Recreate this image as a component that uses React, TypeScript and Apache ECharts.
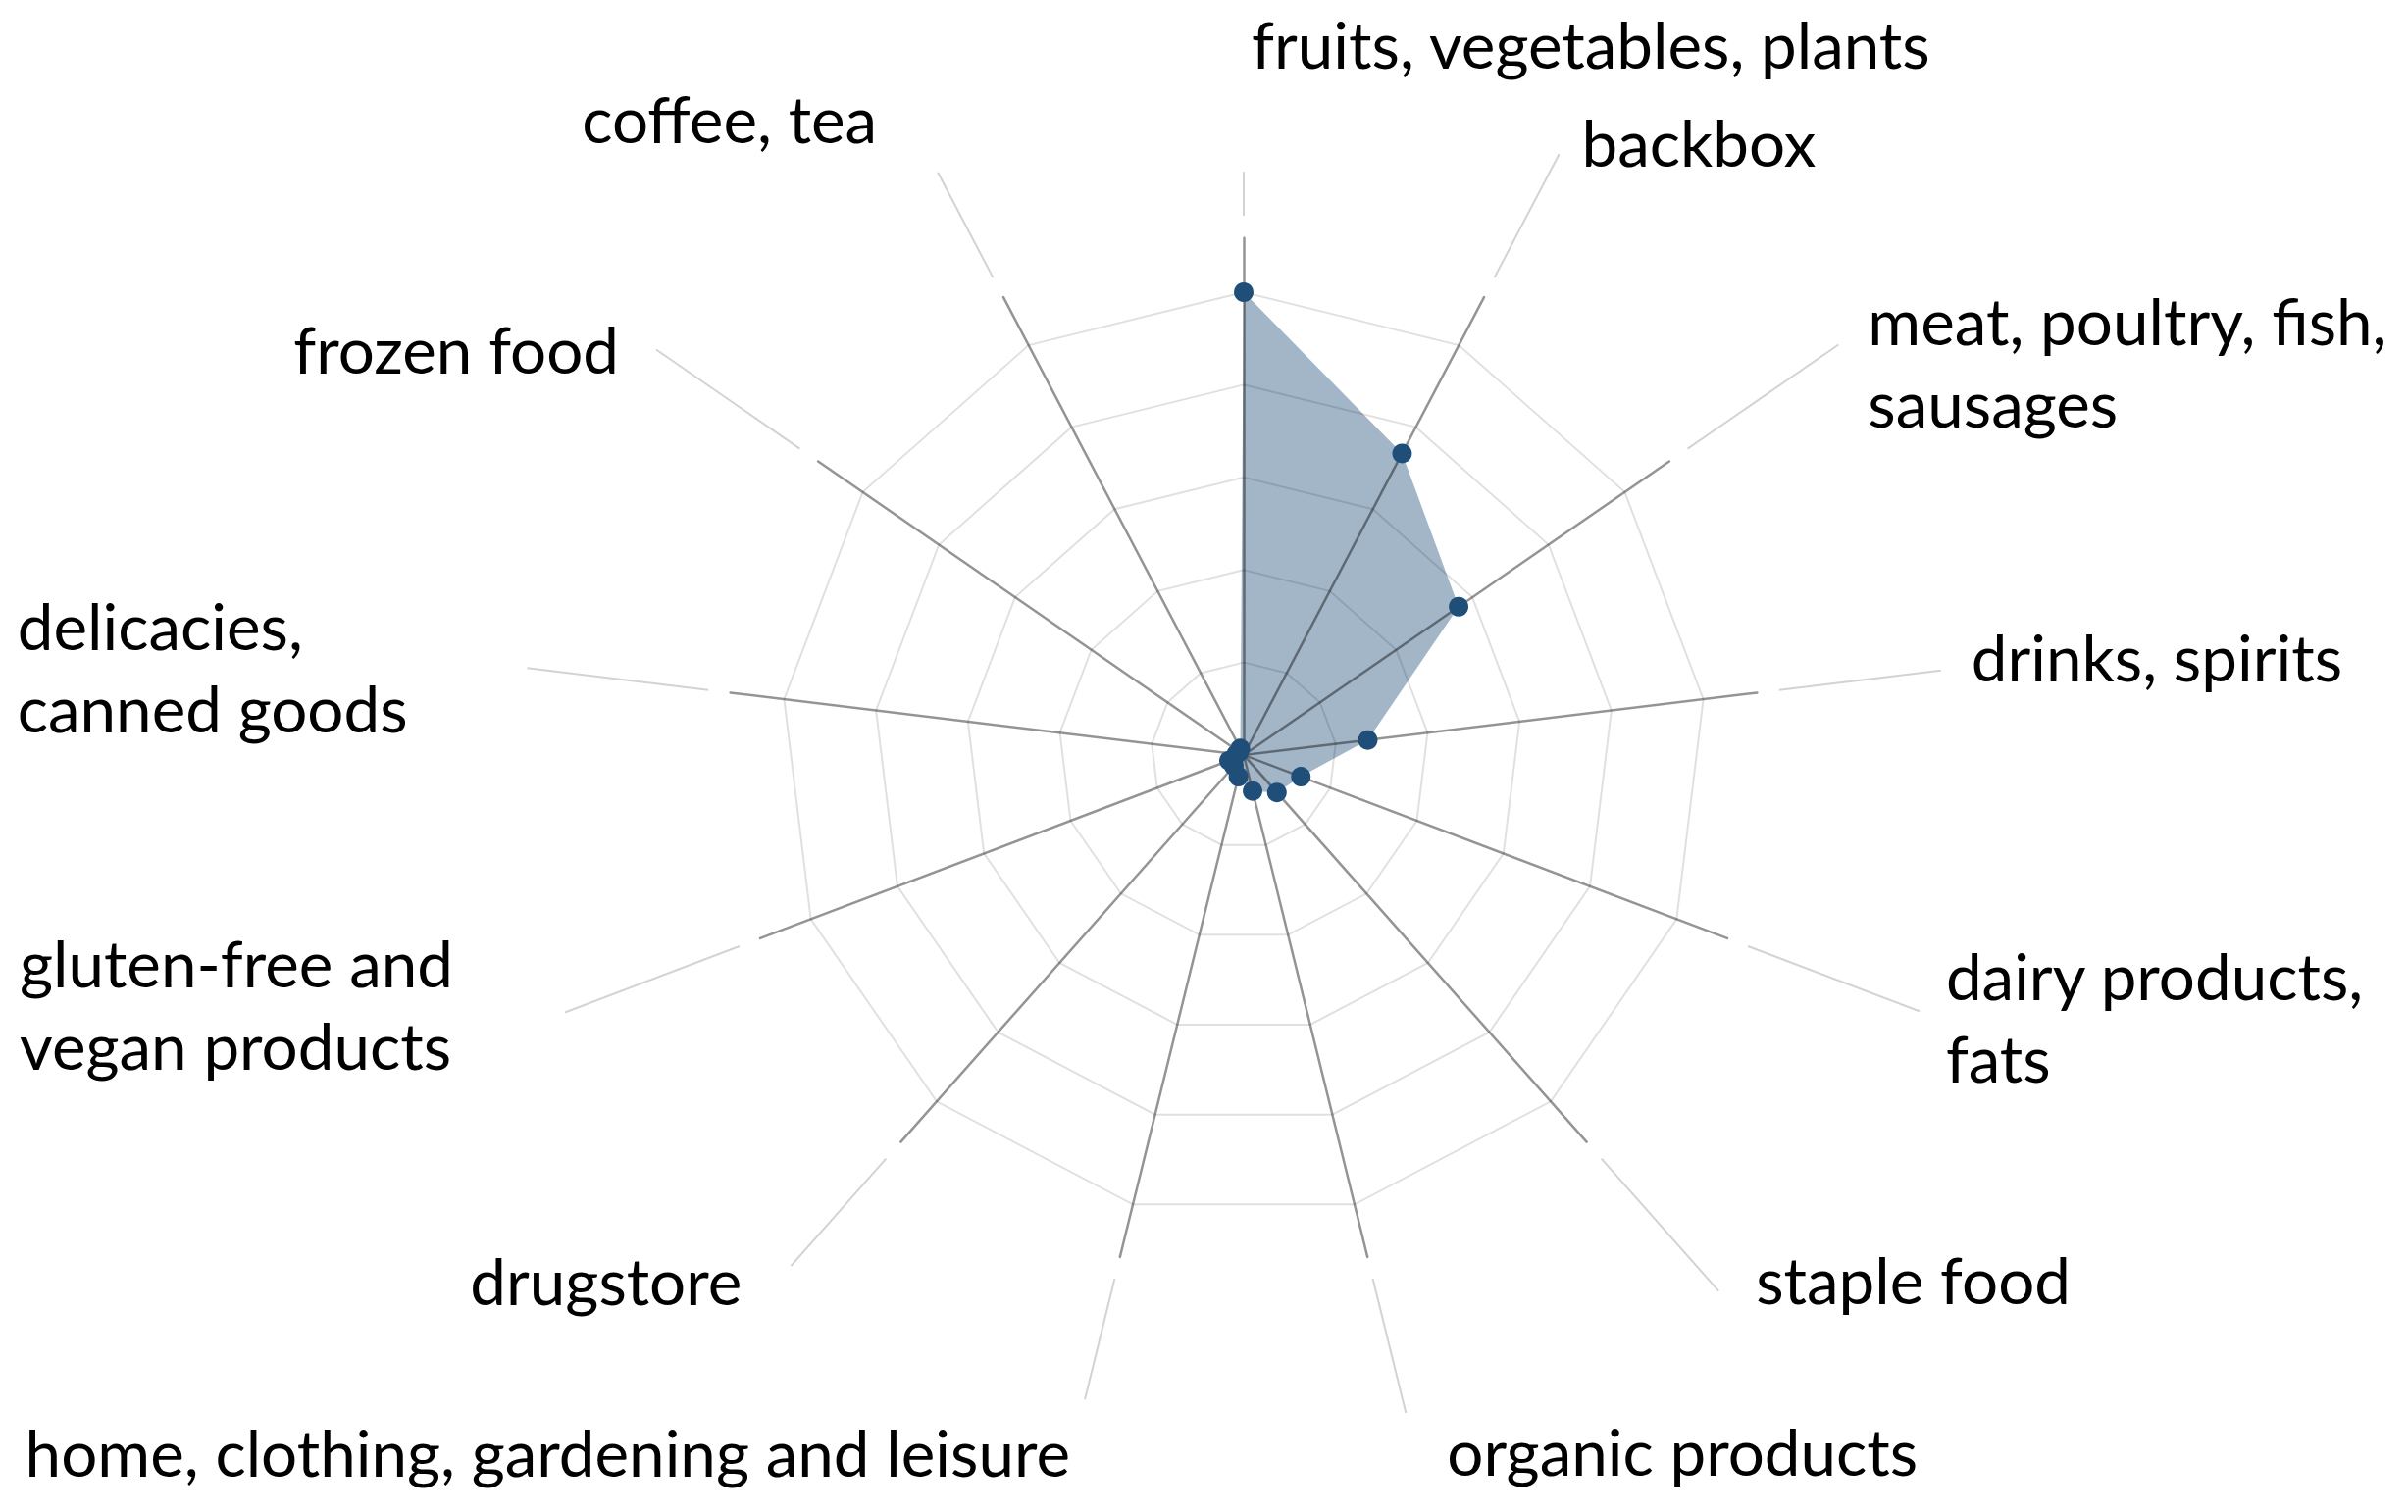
import React, { useEffect, useRef } from 'react';
import * as echarts from 'echarts';

// Categories, clockwise from the top (line breaks as in the reference labels)
const categories: string[] = [
  'fruits, vegetables, plants',
  'backbox',
  'meat, poultry, fish,\nsausages',
  'drinks, spirits',
  'dairy products,\nfats',
  'staple food',
  'organic products',
  'home, clothing, gardening and leisure',
  'drugstore',
  'gluten-free and\nvegan products',
  'delicacies,\ncanned goods',
  'frozen food',
  'coffee, tea',
];

// Values (same clockwise order)
const values: number[] = [50, 36.8, 28.2, 13.5, 6.6, 5.4, 4.0, 2.4, 1.6, 1.7, 0.8, 0.6, 0.8];

const axisMin = 0;
const axisMax = 50;
const ringCount = 5;

// ---- layout (not data) ----
const CX = 1268;
const CY = 770;
const R = 472;
const DARK_REACH = 1.117; // dark axis line length, in radii
const LIGHT_START = 1.165; // start of light leader line, in radii
// leader line end per axis, in radii (clockwise order)
const leaderReach: number[] = [1.26, 1.466, 1.561, 1.517, 1.561, 1.547, 1.464, 1.434, 1.475, 1.568, 1.559, 1.542, 1.422];
// label offset from leader end [dx, dy, side]
const labelOffset: [number, number, string][] = [
  [8, -131, 'left'],
  [23, -13, 'left'],
  [30, 17, 'left'],
  [31, -14, 'left'],
  [27, 5, 'left'],
  [38, -12, 'left'],
  [42, 39, 'left'],
  [-15, 53, 'right'],
  [-50, 14, 'right'],
  [-114, -9, 'right'],
  [-122, -2, 'right'],
  [-38, -1, 'right'],
  [-62, -55, 'right'],
];
const FONT_SIZE = 65.5;
const LINE_HEIGHT = 84;
const FONT_FAMILY = 'Lato';
const DOT_COLOR = '#1f4e79';

export default function App() {
  const ref = useRef<HTMLDivElement>(null);

  useEffect(() => {
    document.body.style.margin = '0';
    document.body.style.overflow = 'hidden';
    if (!ref.current) return;
    const chart = echarts.init(ref.current, null, { renderer: 'svg' });

    const n = categories.length;
    // ECharts lays radar indicators counter-clockwise; reorder so the picture runs clockwise
    const order = [0, ...Array.from({ length: n - 1 }, (_, i) => n - 1 - i)];
    const indicator = order.map((i) => ({ name: categories[i], min: axisMin, max: axisMax }));
    const ecValues = order.map((i) => values[i]);

    const measure = document.createElement('canvas').getContext('2d');
    if (measure) measure.font = `${FONT_SIZE}px ${FONT_FAMILY}`;
    const blockWidth = (t: string) =>
      Math.max(...t.split('\n').map((l) => (measure ? measure.measureText(l).width : l.length * FONT_SIZE * 0.5)));

    const graphics: any[] = [];
    categories.forEach((name, k) => {
      const th = Math.PI / 2 - (k * 2 * Math.PI) / n;
      const c = Math.cos(th);
      const s = Math.sin(th);
      const r1 = R * LIGHT_START;
      const r2 = R * leaderReach[k];
      const ex = CX + r2 * c;
      const ey = CY - r2 * s;
      graphics.push({
        type: 'line',
        z: 0,
        silent: true,
        shape: { x1: CX + r1 * c, y1: CY - r1 * s, x2: ex, y2: ey },
        style: { stroke: '#d3d3d3', lineWidth: 2 },
      });
      const [dx, dy, side] = labelOffset[k];
      const w = blockWidth(name);
      const x = side === 'left' ? ex + dx : ex + dx - w;
      graphics.push({
        type: 'text',
        z: 20,
        silent: true,
        x,
        y: ey + dy,
        style: {
          text: name,
          fill: '#000000',
          fontSize: FONT_SIZE,
          fontFamily: FONT_FAMILY,
          lineHeight: LINE_HEIGHT,
          align: 'left',
          verticalAlign: 'middle',
          textAlign: 'left',
          textVerticalAlign: 'middle',
        },
      });
    });

    const option: any = {
      animation: false,
      backgroundColor: '#ffffff',
      radar: [
        {
          center: [CX, CY],
          radius: R,
          startAngle: 90,
          splitNumber: ringCount,
          shape: 'polygon',
          indicator,
          axisName: { show: false },
          axisLine: { show: false },
          axisTick: { show: false },
          axisLabel: { show: false },
          splitLine: { show: true, lineStyle: { color: 'rgba(0,0,0,0.12)', width: 2 } },
          splitArea: { show: false },
          z: 5,
        },
        {
          center: [CX, CY],
          radius: R * DARK_REACH,
          startAngle: 90,
          splitNumber: ringCount,
          shape: 'polygon',
          indicator,
          axisName: { show: false },
          axisLine: { show: true, lineStyle: { color: 'rgba(0,0,0,0.42)', width: 2.5 } },
          axisTick: { show: false },
          axisLabel: { show: false },
          splitLine: { show: false },
          splitArea: { show: false },
          z: 4,
        },
      ],
      graphic: { elements: graphics },
      series: [
        {
          type: 'radar',
          radarIndex: 0,
          z: 2,
          symbol: 'none',
          silent: true,
          lineStyle: { width: 0, opacity: 0 },
          areaStyle: { color: DOT_COLOR, opacity: 0.41 },
          data: [{ value: ecValues, name: 'share' }],
        },
        {
          type: 'radar',
          radarIndex: 0,
          z: 10,
          symbol: 'circle',
          symbolSize: 20,
          silent: true,
          itemStyle: { color: DOT_COLOR },
          lineStyle: { width: 0, opacity: 0 },
          data: [{ value: ecValues, name: 'share' }],
        },
      ],
    };

    chart.setOption(option);
    return () => chart.dispose();
  }, []);

  return (
    <div
      ref={ref}
      style={{ position: 'absolute', left: 0, top: 0, width: 2455, height: 1542 }}
    />
  );
}
